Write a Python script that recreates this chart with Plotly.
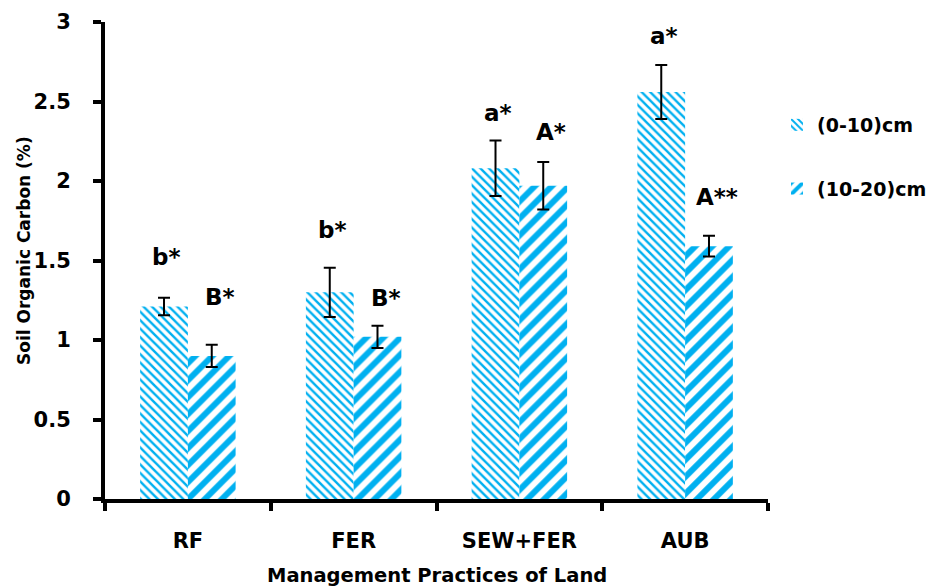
import plotly.graph_objects as go

# Management practices and soil organic carbon (%) at two depths
practices = ["RF", "FER", "SEW+FER", "AUB"]
soc_0_10 = [1.21, 1.30, 2.08, 2.56]
err_0_10 = [0.055, 0.155, 0.175, 0.17]
soc_10_20 = [0.90, 1.02, 1.97, 1.59]
err_10_20 = [0.07, 0.07, 0.15, 0.065]

# Significance letters above each bar
letters_0_10 = ["b*", "b*", "a*", "a*"]
letters_10_20 = ["B*", "B*", "A*", "A**"]
# heights (data units) where the letters sit
letter_y_0_10 = [1.52, 1.695, 2.43, 2.91]
letter_y_10_20 = [1.27, 1.265, 2.31, 1.90]

FONT = "DejaVu Sans"
BLUE = "#00B0F0"

W, H = 944, 588
L, R, T, B = 105, 176, 22, 89
PW, PH = W - L - R, H - T - B


def bold(size, family=FONT):
    return dict(family=family, size=size, color="black", weight="bold")


fig = go.Figure()
fig.add_trace(go.Bar(
    name="(0-10)cm", x=practices, y=soc_0_10,
    marker=dict(color="white", line=dict(width=0),
                pattern=dict(shape="\\", fgcolor=BLUE, bgcolor="white",
                             fgopacity=1, size=6, solidity=0.4)),
    error_y=dict(type="data", array=err_0_10, color="black",
                 thickness=2, width=6),
    legendgroup="a",
))
fig.add_trace(go.Bar(
    name="(10-20)cm", x=practices, y=soc_10_20,
    marker=dict(color="white", line=dict(width=0),
                pattern=dict(shape="/", fgcolor=BLUE, bgcolor="white",
                             fgopacity=1, size=12, solidity=0.5)),
    error_y=dict(type="data", array=err_10_20, color="black",
                 thickness=2, width=6),
    legendgroup="b",
))

annotations = []
for p, t, y in zip(practices, letters_0_10, letter_y_0_10):
    annotations.append(dict(x=p, y=y, text=t, showarrow=False, xshift=-21,
                            font=bold(23)))
for p, t, y in zip(practices, letters_10_20, letter_y_10_20):
    annotations.append(dict(x=p, y=y, text=t, showarrow=False, xshift=32,
                            font=bold(23)))

# axis titles, placed in the margins
annotations.append(dict(text="Management Practices of Land", xref="paper", yref="paper",
                        x=(437 - L) / PW, y=-(575 - (H - B)) / PH,
                        xanchor="center", yanchor="middle", showarrow=False,
                        font=bold(19.5)))
annotations.append(dict(text="Soil Organic Carbon (%)", xref="paper", yref="paper",
                        x=-(L - 24) / PW, y=(H - B - 251) / PH, textangle=-90,
                        xanchor="center", yanchor="middle", showarrow=False,
                        font=bold(17)))

fig.update_layout(
    width=W, height=H,
    margin=dict(l=L, r=R, t=T, b=B),
    plot_bgcolor="white", paper_bgcolor="white",
    barmode="group", bargap=0.424, bargroupgap=0,
    font=dict(family=FONT, color="black"),
    annotations=annotations,
    legend=dict(x=(W - 12 - L) / PW, y=(H - B - 157) / PH,
                xanchor="right", yanchor="middle",
                traceorder="grouped", tracegroupgap=36,
                font=bold(19), bgcolor="rgba(0,0,0,0)"),
    xaxis=dict(
        range=[-0.5, 3.5], showline=True, linecolor="black", linewidth=4,
        ticks="outside", tickson="boundaries", ticklen=8, tickwidth=4,
        tickcolor="black", ticklabelstandoff=20,
        tickfont=bold(21), automargin=False,
        showgrid=False, zeroline=False,
    ),
    yaxis=dict(
        range=[0, 3], showline=True, linecolor="black", linewidth=4,
        ticks="outside", ticklen=8, tickwidth=4, tickcolor="black",
        tickvals=[0, 0.5, 1, 1.5, 2, 2.5, 3],
        ticktext=["0", "0.5", "1", "1.5", "2", "2.5", "3"],
        ticklabelstandoff=18,
        tickfont=bold(21), automargin=False,
        showgrid=False, zeroline=False,
    ),
)

fig.write_html("out.html")
